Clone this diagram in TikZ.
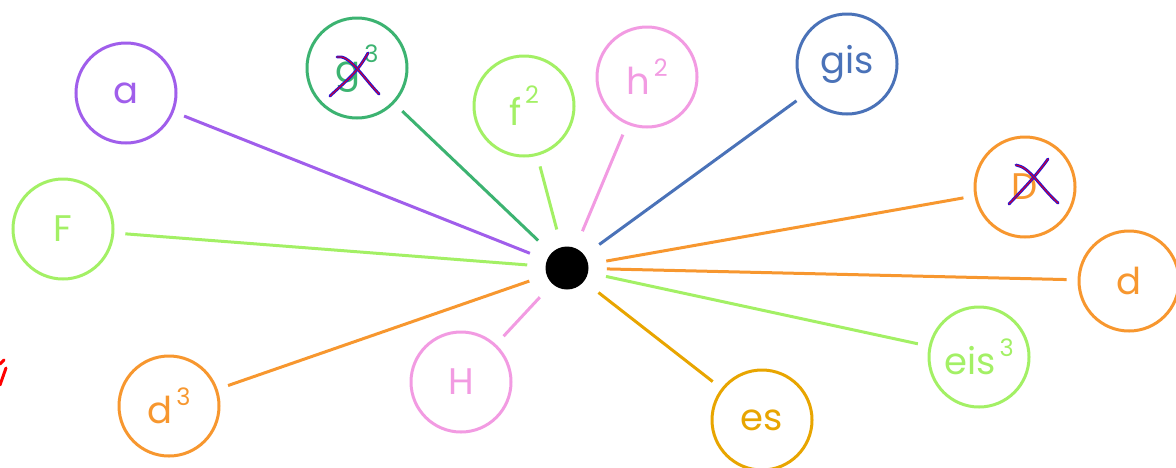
\documentclass[tikz,border=0pt]{standalone}
\usepackage{fontspec}
\setmainfont{Poppins}
\usepackage{xcolor}
\usetikzlibrary{arrows.meta}
\definecolor{notepurple}{HTML}{A05EEB}
\definecolor{notegreen}{HTML}{3CB371}
\definecolor{notelime}{HTML}{A3F065}
\definecolor{notepink}{HTML}{F29BE2}
\definecolor{noteblue}{HTML}{4A72B8}
\definecolor{noteorange}{HTML}{F7972F}
\definecolor{notegold}{HTML}{E8A500}
\definecolor{crossblue}{HTML}{2A10D0}
\newcommand\hi[2][9pt]{\hspace{2pt}\raisebox{#1}{\fontsize{12}{12}\selectfont#2}}
\tikzset{
  notecircle/.style={circle, draw=#1, text=#1, line width=1.5pt,
    minimum size=50pt, inner sep=0pt, font=\fontsize{18.5}{20}\selectfont},
  notehub/.style={circle, fill=black, minimum size=21.5pt, inner sep=0pt},
  notespoke/.style={draw=#1, line width=1.5pt, shorten <=9pt,
    shorten >=5.5pt},
  notecross/.style={draw=crossblue, line width=0.55pt, double=red,
    double distance=0.35pt, line cap=round, line join=round}
}
\begin{document}
\begin{tikzpicture}[x=0.5pt, y=-0.5pt]
  \useasboundingbox (0,0) rectangle (1176,467);
  \node[notehub] (hub) at (567,268) {};

  \node[notecircle=notepurple] (a) at (126,93) {a};
  \node[notecircle=notegreen, text depth=4pt] (g3) at (357,68) {g\hi[10pt]{3}};
  \node[notecircle=notelime] (f2) at (524,106) {f\hi[11pt]{2}};
  \node[notecircle=notepink] (h2) at (647,77) {h\hi{2}};
  \node[notecircle=noteblue] (gis) at (847,64) {gis};
  \node[notecircle=noteorange] (D) at (1025,187) {D};
  \node[notecircle=noteorange] (d) at (1129,281) {d};
  \node[notecircle=notelime] (eis3) at (979,357) {eis\hi{3}};
  \node[notecircle=notegold] (es) at (762,420) {es};
  \node[notecircle=notepink] (H) at (461,382) {H};
  \node[notecircle=noteorange] (d3) at (169,406) {d\hi{3}};
  \node[notecircle=notelime] (F) at (63,229) {F};

  \draw[notespoke=notepurple] (hub) -- (a);
  \draw[notespoke=notegreen] (hub) -- (g3);
  \draw[notespoke=notelime] (hub) -- (f2);
  \draw[notespoke=notepink] (hub) -- (h2);
  \draw[notespoke=noteblue] (hub) -- (gis);
  \draw[notespoke=noteorange] (hub) -- (D);
  \draw[notespoke=noteorange] (hub) -- (d);
  \draw[notespoke=notelime] (hub) -- (eis3);
  \draw[notespoke=notegold] (hub) -- (es);
  \draw[notespoke=notepink] (hub) -- (H);
  \draw[notespoke=noteorange] (hub) -- (d3);
  \draw[notespoke=notelime] (hub) -- (F);

  % crossed out notes
  \begin{scope}[shift={(g3.center)}]
    \draw[notecross] (-27,28) .. controls (-10,12) and (0,5) .. (11,-15);
    \draw[notecross] (-20,-11) .. controls (-8,-14) and (5,8) .. (22,26);
  \end{scope}
  \begin{scope}[shift={(D.center)}]
    \draw[notecross] (-16,17) .. controls (0,0) and (10,-10) .. (23,-28);
    \draw[notecross] (-9,-22) .. controls (5,-20) and (15,0) .. (33,16);
  \end{scope}

  % red stroke at the left edge
  \draw[red, line width=1.5pt, line cap=round] (0,364) -- (4,360);
  \draw[red, line width=1.5pt, line cap=round] (6,368) -- (0,385);
\end{tikzpicture}
\end{document}
